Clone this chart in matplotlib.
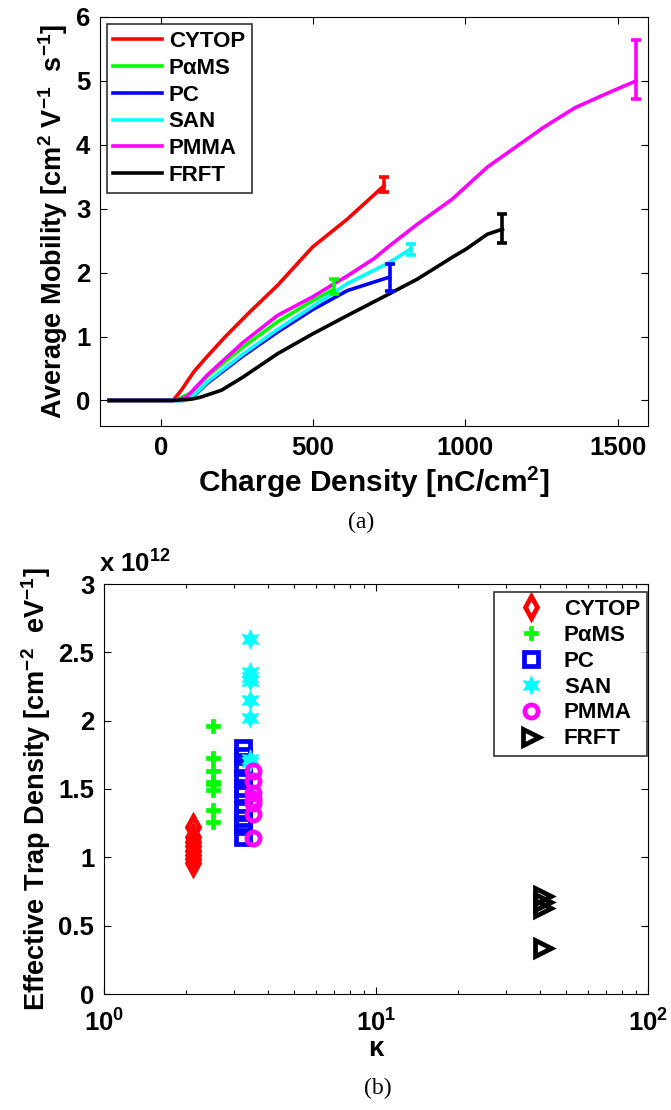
import matplotlib
matplotlib.use("Agg")
import matplotlib.pyplot as plt
from matplotlib.ticker import FixedLocator, FuncFormatter, LogLocator, NullFormatter

plt.rcParams["font.family"] = ["Liberation Sans", "DejaVu Sans"]
plt.rcParams["font.weight"] = "bold"
plt.rcParams["mathtext.fontset"] = "custom"
plt.rcParams["mathtext.rm"] = "Liberation Sans:bold"
plt.rcParams["mathtext.default"] = "rm"

# ---- (a) average mobility vs charge density ----
names = ["CYTOP", "PαMS", "PC", "SAN", "PMMA", "FRFT"]
colors = ["#ff0000", "#00ff00", "#0000ff", "#00ffff", "#ff00ff", "#000000"]

cytop_x = [-170, 0, 40, 67, 107, 141, 210, 291, 383, 498, 613, 733]
cytop_y = [0, 0, 0, 0.16, 0.44, 0.63, 0.99, 1.38, 1.80, 2.40, 2.84, 3.36]
pams_x = [-170, 0, 50, 100, 153, 268, 383, 498, 567]
pams_y = [0, 0, 0.01, 0.12, 0.38, 0.83, 1.23, 1.56, 1.74]
pc_x = [-170, 0, 72, 100, 153, 268, 383, 498, 613, 751]
pc_y = [0, 0, 0, 0.03, 0.27, 0.69, 1.07, 1.42, 1.72, 1.93]
san_x = [-170, 0, 72, 100, 153, 268, 383, 498, 613, 751, 820]
san_y = [0, 0, 0, 0.04, 0.29, 0.72, 1.11, 1.47, 1.83, 2.16, 2.37]
pmma_x = [-170, 0, 44, 84, 153, 268, 383, 498, 567, 613, 700, 751, 843, 957,
          1072, 1164, 1256, 1360, 1463, 1561]
pmma_y = [0, 0, 0, 0.05, 0.40, 0.90, 1.33, 1.62, 1.82, 1.95, 2.22, 2.42, 2.76,
          3.15, 3.65, 3.96, 4.27, 4.58, 4.80, 5.00]
frft_x = [-170, 0, 38, 100, 130, 199, 268, 383, 498, 613, 751, 843, 957, 1003,
          1072, 1122]
frft_y = [0, 0, 0, 0.02, 0.05, 0.16, 0.36, 0.73, 1.04, 1.33, 1.67, 1.90, 2.24,
          2.37, 2.60, 2.68]

# error bars at the last point (lower, upper)
err_lo = [0.10, 0.08, 0.21, 0.10, 0.29, 0.22]
err_hi = [0.13, 0.16, 0.21, 0.08, 0.64, 0.24]

# ---- (b) effective trap density vs kappa (units of 1e12) ----
kappa = [2.12, 2.52, 3.23, 3.44, 3.53, 41]
cytop_n = [1.22, 1.15, 1.11, 1.08, 1.05, 1.02, 0.99, 0.96]
pams_n = [1.96, 1.725, 1.63, 1.55, 1.535, 1.49, 1.345, 1.257]
pc_n = [1.80, 1.74, 1.66, 1.58, 1.51, 1.46, 1.35, 1.29, 1.23, 1.15]
san_n = [2.595, 2.356, 2.317, 2.288, 2.149, 2.017, 1.718, 1.70]
pmma_n = [1.63, 1.56, 1.47, 1.43, 1.40, 1.32, 1.14]
frft_n = [0.72, 0.67, 0.63, 0.34]

W, H = 671, 1110
fig = plt.figure(figsize=(W / 100, H / 100), dpi=100)

ax1 = fig.add_axes([100 / W, 1 - 426 / H, 548 / W, 409 / H])
curves = [(cytop_x, cytop_y), (pams_x, pams_y), (pc_x, pc_y),
          (san_x, san_y), (pmma_x, pmma_y), (frft_x, frft_y)]
for i, (xs, ys) in enumerate(curves):
    ax1.plot(xs, ys, color=colors[i], lw=2.6, label=names[i],
             solid_joinstyle="round")
for i, (xs, ys) in enumerate(curves):
    ax1.errorbar(xs[-1], ys[-1], yerr=[[err_lo[i]], [err_hi[i]]], fmt="none",
                 ecolor=colors[i], elinewidth=2.6, capsize=3.5, capthick=2.6)

ax1.set_xlim(-200, 1600)
ax1.set_ylim(-0.4, 6)
ax1.xaxis.set_major_locator(FixedLocator([0, 500, 1000, 1500]))
ax1.yaxis.set_major_locator(FixedLocator([0, 1, 2, 3, 4, 5, 6]))
ax1.tick_params(direction="in", top=True, right=True, labelsize=18.5,
                length=5, width=0.8, pad=7)
ax1.set_xlabel("Charge Density [nC/cm$^2$]", fontsize=21.5, fontweight="bold",
               labelpad=4)
ax1.set_ylabel("Average Mobility [cm$^2$ V$^{-1}$  s$^{-1}$]", fontsize=19.5,
               fontweight="bold", labelpad=4)
leg1 = ax1.legend(loc="upper left", bbox_to_anchor=(0.012, 0.982), fontsize=16,
                  frameon=True, fancybox=False, edgecolor="black",
                  handlelength=2.2, handletextpad=0.3, borderaxespad=0,
                  labelspacing=0.26, borderpad=0.3)
leg1.get_frame().set_linewidth(1.2)

fig.text(361 / W, 1 - 522 / H, "(a)", family="Liberation Serif",
         fontweight="normal", fontsize=17, ha="center", va="center")

# bottom axes
ax2 = fig.add_axes([104 / W, 1 - 994 / H, 544 / W, 410 / H])
series = [cytop_n, pams_n, pc_n, san_n, pmma_n, frft_n]
markers = ["d", "P", "s", (6, 1, 0), "o", ">"]
msizes = [11, 10, 10, 14, 9.5, 11]
for i, vals in enumerate(series):
    filled = i in (1, 3)
    ax2.plot([kappa[i]] * len(vals), vals, linestyle="none",
             marker=markers[i], markersize=msizes[i],
             markerfacecolor=colors[i] if filled else "none",
             markeredgecolor=colors[i], markeredgewidth=3.4 if not filled else 0.5,
             label=names[i])

ax2.set_xscale("log")
ax2.set_xlim(1, 100)
ax2.set_ylim(0, 3)
ax2.yaxis.set_major_locator(FixedLocator([0, 0.5, 1, 1.5, 2, 2.5, 3]))
ax2.yaxis.set_major_formatter(FuncFormatter(lambda v, p: "%g" % v))
ax2.xaxis.set_major_locator(LogLocator(base=10))
ax2.xaxis.set_minor_locator(LogLocator(base=10, subs=range(2, 10)))
ax2.xaxis.set_minor_formatter(NullFormatter())
ax2.tick_params(which="both", direction="in", top=True, right=True,
                labelsize=18.5, width=0.8, pad=7)
ax2.tick_params(axis="x", which="both", pad=11)
ax2.tick_params(which="major", length=5)
ax2.tick_params(which="minor", length=3)
ax2.set_xlabel("κ", fontsize=20, fontweight="bold", labelpad=0)
ax2.set_ylabel("Effective Trap Density [cm$^{-2}$  eV$^{-1}$]", fontsize=19.5,
               fontweight="bold", labelpad=4)
ax2.text(-0.01, 1.015, "x 10$^{12}$", transform=ax2.transAxes, fontsize=18.5,
         fontweight="bold", ha="left", va="bottom")
leg2 = ax2.legend(loc="upper right", bbox_to_anchor=(0.998, 0.98), fontsize=16,
                  frameon=True, fancybox=False, edgecolor="black",
                  handlelength=2.7, handletextpad=0.15, borderaxespad=0,
                  labelspacing=0.22, borderpad=0.3, numpoints=1)
leg2.get_frame().set_linewidth(1.2)

fig.text(378 / W, 1 - 1088 / H, "(b)", family="Liberation Serif",
         fontweight="normal", fontsize=17, ha="center", va="center")

fig.savefig("out.png", dpi=100)
